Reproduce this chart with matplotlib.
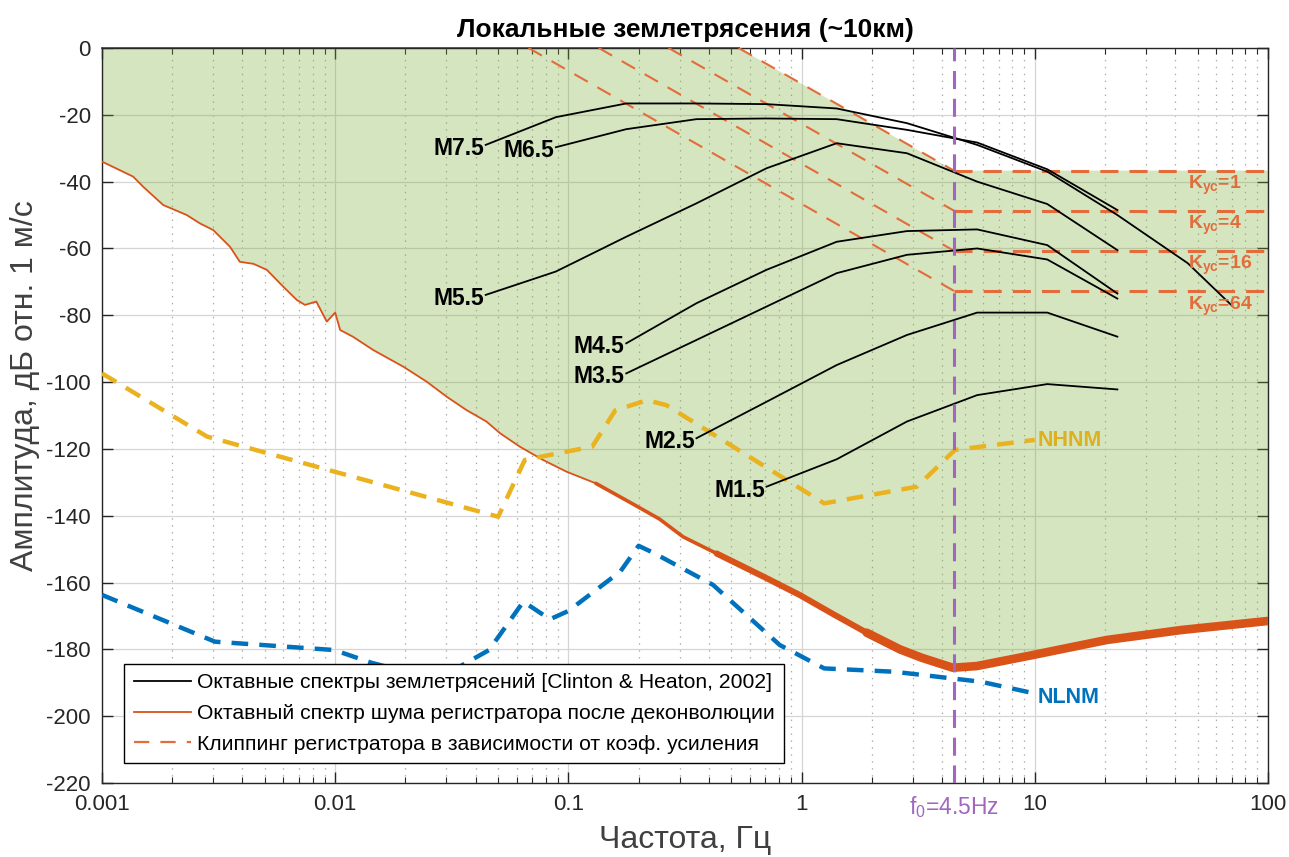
import matplotlib
matplotlib.use('Agg')
import matplotlib.pyplot as plt
from matplotlib.lines import Line2D
from matplotlib.transforms import blended_transform_factory

plt.rcParams['font.family'] = ['Liberation Sans', 'DejaVu Sans']
plt.rcParams['mathtext.default'] = 'regular'
plt.rcParams['lines.scale_dashes'] = False

# ---------------- data ----------------
octave_f = [0.0442, 0.0884, 0.177, 0.354, 0.707, 1.414, 2.83, 5.66, 11.31, 22.6, 45.25, 70.0]

quake_labels = ['M7.5', 'M6.5', 'M5.5', 'M4.5', 'M3.5', 'M2.5', 'M1.5']
quake_first = [0, 1, 0, 2, 2, 3, 4]   # index of first octave frequency
m75 = [-29.0, -20.7, -16.6, -16.6, -16.8, -18.1, -22.5, -29.0, -37.0, -50.0, -64.4, -77.1]
m65 = [-29.7, -24.3, -21.3, -21.1, -21.3, -24.5, -28.3, -36.3, -48.5]
m55 = [-73.9, -66.9, -56.5, -46.5, -36.0, -28.5, -31.5, -40.0, -46.7, -60.5]
m45 = [-88.4, -76.4, -66.4, -58.0, -54.8, -54.3, -59.0, -73.5]
m35 = [-97.4, -87.4, -77.4, -67.4, -61.9, -60.0, -63.3, -75.0]
m25 = [-116.8, -105.9, -94.9, -85.9, -79.2, -79.2, -86.4]
m15 = [-131.3, -123.1, -111.8, -103.9, -100.6, -102.2]
quake_db = [m75, m65, m55, m45, m35, m25, m15]

noise_f = [0.001, 0.00136, 0.0015, 0.00183, 0.00231, 0.00263, 0.0030, 0.00354, 0.0039,
           0.00446, 0.00509, 0.00598, 0.00684, 0.00742, 0.0083, 0.0092, 0.0100, 0.0105,
           0.0119, 0.01456, 0.0196, 0.0247, 0.0301, 0.0366, 0.0445, 0.0509, 0.0618,
           0.0778, 0.098, 0.131, 0.187, 0.246, 0.310, 0.432, 0.708, 0.98, 1.37, 1.9,
           2.64, 3.27, 4.45, 5.64, 9.8, 20.3, 42.6, 100.0]
noise_db = [-34.0, -38.5, -41.5, -47.0, -50.0, -52.5, -54.5, -59.5, -64.0,
            -64.6, -66.4, -71.4, -75.4, -76.9, -75.9, -81.9, -79.2, -84.4,
            -86.4, -90.4, -95.4, -99.9, -104.4, -108.4, -111.8, -115.3, -119.3,
            -123.3, -126.8, -130.3, -136.3, -141.0, -146.3, -151.3, -158.7, -163.7, -169.5, -175.0,
            -180.0, -182.5, -185.5, -185.0, -181.7, -177.2, -174.2, -171.5]

nhnm_f = [0.001, 0.00282, 0.05, 0.065, 0.1266, 0.1587, 0.2174, 0.263, 1.25, 3.125, 4.545, 10.0]
nhnm_db = [-97.4, -116.3, -140.3, -123.3, -119.3, -108.5, -105.4, -106.9, -136.3, -131.3, -120.3, -117.3]

nlnm_f = [0.001, 0.00305, 0.0099, 0.01429, 0.0222, 0.0316, 0.0457, 0.0641, 0.0833, 0.1,
          0.167, 0.2, 0.233, 0.417, 0.806, 1.25, 2.5, 5.88, 10.0]
nlnm_db = [-163.7, -177.7, -180.2, -184.0, -187.5, -186.5, -180.2, -165.7, -171.0, -168.5,
           -156.7, -149.0, -151.2, -160.7, -178.7, -185.7, -186.7, -189.7, -193.2]

clip_gain = [1, 4, 16, 64]
clip_level = [-36.7, -48.7, -60.7, -72.7]
clip_f_top = [0.537, 0.269, 0.135, 0.0675]   # where each clipping line leaves 0 dB
f0 = 4.5

xtick_vals = [0.001, 0.01, 0.1, 1, 10, 100]
xtick_labels = ['0.001', '0.01', '0.1', '1', '10', '100']
ytick_vals = list(range(-220, 1, 20))

# ---------------- colors ----------------
c_noise = '#D95319'
c_clip = '#E36C3A'
c_nhnm = '#EAB21F'
c_nlnm = '#0072BD'
c_f0 = '#A066C0'
c_green = '#77AC30'
c_axis = '#262626'

fig = plt.figure(figsize=(12.89, 8.57), dpi=100)
ax = fig.add_axes([102 / 1289, 1 - 783 / 857, 1166 / 1289, 735 / 857])
ax.set_xscale('log')
ax.set_xlim(1e-3, 100)
ax.set_ylim(-220, 0)
ax.set_axisbelow(True)

# grid
ax.grid(True, which='major', axis='both', color='#D5D5D5', lw=0.9, ls='-')
ax.grid(True, which='minor', axis='x', color='#A8A8A8', lw=0.9, ls=(0, (1, 4)))

# green region: between noise and K=1 clipping level
top_f = [noise_f[0], clip_f_top[0], f0, noise_f[-1]]
top_db = [0, 0, clip_level[0], clip_level[0]]
poly_x = top_f + noise_f[::-1]
poly_y = top_db + noise_db[::-1]
ax.fill(poly_x, poly_y, facecolor=c_green, alpha=0.3, edgecolor='none', zorder=1)
ax.plot(top_f[:2], top_db[:2], color='#4F7A22', lw=1.4, zorder=2, clip_on=False)

# noise curve (thicker where the reference band is thick)
ax.plot(noise_f, noise_db, color=c_noise, lw=1.3, zorder=3, solid_capstyle='round')
for fmin, lw in [(0.12, 2.6), (0.4, 4.4), (1.5, 6.2)]:
    fx = [f for f in noise_f if f >= fmin]
    fy = [d for f, d in zip(noise_f, noise_db) if f >= fmin]
    ax.plot(fx, fy, color=c_noise, lw=lw, zorder=3, solid_capstyle='round',
            solid_joinstyle='round')

# NHNM / NLNM
ax.plot(nhnm_f, nhnm_db, color=c_nhnm, lw=3.2, dashes=(12, 8), zorder=4)
ax.plot(nlnm_f, nlnm_db, color=c_nlnm, lw=3.2, dashes=(12, 8), zorder=4)
ax.text(10.3, nhnm_db[-1] - 0.3, 'NHNM', color='#DDB020', fontsize=15.5,
        fontweight='bold', ha='left', va='center', zorder=6)
ax.text(10.3, nlnm_db[-1] - 1.2, 'NLNM', color=c_nlnm, fontsize=15.5,
        fontweight='bold', ha='left', va='center', zorder=6)

# clipping lines
for g, lev, ftop in zip(clip_gain, clip_level, clip_f_top):
    ax.plot([ftop, f0], [0, lev], color=c_clip, lw=1.5, dashes=(11, 8), zorder=4)
    ax.plot([f0, 100], [lev, lev], color=c_clip, lw=2.2, dashes=(13, 8), zorder=4)
    ax.text(45.5, lev - 4.5, 'K$_{yc}$=%d' % g, color=c_clip, fontsize=14,
            fontweight='bold', ha='left', va='center', zorder=6)

# earthquake spectra
for lab, i0, vals in zip(quake_labels, quake_first, quake_db):
    fx = octave_f[i0:i0 + len(vals)]
    ax.plot(fx, vals, color='black', lw=1.3, zorder=5)
    ax.text(fx[0] / 1.015, vals[0] - 1.0, lab, fontsize=16.5, fontweight='bold',
            ha='right', va='center', color='black', zorder=6)

# f0 line
ax.axvline(f0, color=c_f0, lw=2.2, dashes=(13, 7), zorder=5)

# ticks
ax.set_xticks(xtick_vals)
ax.set_xticklabels(xtick_labels)
ax.set_yticks(ytick_vals)
ax.set_yticklabels([str(v) for v in ytick_vals])
ax.tick_params(which='both', direction='in', top=True, right=True, colors=c_axis,
               labelsize=16)
ax.tick_params(which='major', length=8, width=1, pad=8)
ax.tick_params(which='minor', length=4.5, width=0.8)
for s in ax.spines.values():
    s.set_color(c_axis)
    s.set_linewidth(1.0)

trans = blended_transform_factory(ax.transData, ax.transAxes)
ax.annotate('f$_0$=4.5Hz', xy=(f0, 0), xycoords=trans, xytext=(0, -8),
            textcoords='offset points', ha='center', va='top', color=c_f0, fontsize=16.5)

ax.set_title('Локальные землетрясения (~10км)', fontsize=19, fontweight='bold',
             color='black', pad=8)
ax.set_xlabel('Частота, Гц', fontsize=23, color='#404040')
ax.xaxis.set_label_coords(0.5, -0.077)
ax.xaxis.label.set_va('center')
ax.set_ylabel('Амплитуда, дБ отн. 1 м/с', fontsize=23, color='#404040')
ax.yaxis.set_label_coords(-0.066, 0.54)
ax.yaxis.label.set_va('center')

handles = [Line2D([], [], color='black', lw=1.3),
           Line2D([], [], color=c_noise, lw=1.3),
           Line2D([], [], color=c_clip, lw=1.6, dashes=(11, 8))]
labels = ['Октавные спектры землетрясений [Clinton & Heaton, 2002]',
          'Октавный спектр шума регистратора после деконволюции',
          'Клиппинг регистратора в зависимости от коэф. усиления']
leg = ax.legend(handles, labels, loc='lower left', bbox_to_anchor=(0.0189, 0.0272),
                borderaxespad=0, fontsize=15.2, frameon=True, fancybox=False,
                edgecolor='black', framealpha=1, handlelength=2.7, handletextpad=0.3,
                labelspacing=0.55, borderpad=0.45)
leg.get_frame().set_linewidth(1.0)
leg.set_zorder(10)

fig.savefig('out.png', dpi=100)
